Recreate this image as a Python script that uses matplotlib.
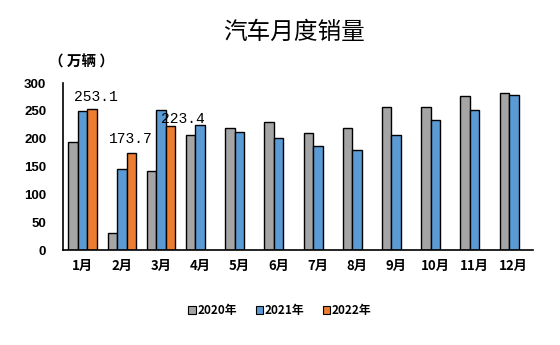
import matplotlib
matplotlib.use("Agg")
import matplotlib.pyplot as plt
import numpy as np
from matplotlib.patches import Patch

months = ["1月", "2月", "3月", "4月", "5月", "6月", "7月", "8月", "9月", "10月", "11月", "12月"]
sales_2020 = [194.1, 31.0, 143.0, 207.0, 219.4, 230.1, 211.2, 218.6, 256.5, 257.3, 276.5, 283.1]
sales_2021 = [250.3, 145.5, 252.6, 225.2, 212.8, 201.5, 186.4, 179.9, 207.0, 233.2, 252.2, 278.6]
sales_2022 = [253.1, 173.7, 223.4]
series_names = ["2020年", "2021年", "2022年"]
yticks = [0, 50, 100, 150, 200, 250, 300]

colors = ["#A5A5A5", "#5B9BD5", "#ED7D31"]
cjk = ["Noto Sans CJK SC", "DejaVu Sans"]

fig = plt.figure(figsize=(5.6, 3.45), dpi=100)
ax = fig.add_axes([0.1125, 0.275, 0.84, 0.484])

x = np.arange(len(months))
w = 0.24
ax.bar(x - w, sales_2020, w, color=colors[0], edgecolor="black", linewidth=1.0)
ax.bar(x, sales_2021, w, color=colors[1], edgecolor="black", linewidth=1.0)
x22 = np.arange(len(sales_2022))
ax.bar(x22 + w, sales_2022, w, color=colors[2], edgecolor="black", linewidth=1.0)

offsets = [(3, 4), (0, 5), (9, 0)]
for xi, v, off in zip(x22, sales_2022, offsets):
    ax.annotate(f"{v:.1f}", xy=(xi + w, v), xytext=off, textcoords="offset points",
                ha="center", va="bottom", fontsize=10.5, family="Liberation Mono")

ax.set_xlim(-0.5, len(months) - 0.5)
ax.set_ylim(0, 300)
ax.set_yticks(yticks)
ax.set_yticklabels([str(t) for t in yticks], fontsize=9.5, fontweight="bold", family="Liberation Sans")
ax.set_xticks(x)
ax.set_xticklabels(months, fontsize=9.5, fontweight="bold", family=cjk)
ax.tick_params(axis="both", length=0)
ax.tick_params(axis="y", pad=12)
ax.tick_params(axis="x", pad=6)
for s in ["top", "right"]:
    ax.spines[s].set_visible(False)
ax.spines["left"].set_linewidth(1.2)
ax.spines["bottom"].set_linewidth(1.2)

fig.text(0.525, 0.905, "汽车月度销量", ha="center", va="center", fontsize=17,
         fontweight="medium", family=cjk)
fig.text(0.088, 0.823, "（ 万辆 ）", ha="left", va="center", fontsize=10.5,
         fontweight="bold", family=cjk)

handles = [Patch(facecolor=c, edgecolor="black", linewidth=0.8) for c in colors]
leg = fig.legend(handles, series_names, loc="center", bbox_to_anchor=(0.5, 0.1), ncol=3,
                 frameon=False, handlelength=0.6, handleheight=0.6, handletextpad=0.15,
                 columnspacing=1.6, prop={"family": cjk, "weight": "bold", "size": 8.5})

fig.savefig("out.png", dpi=100)
